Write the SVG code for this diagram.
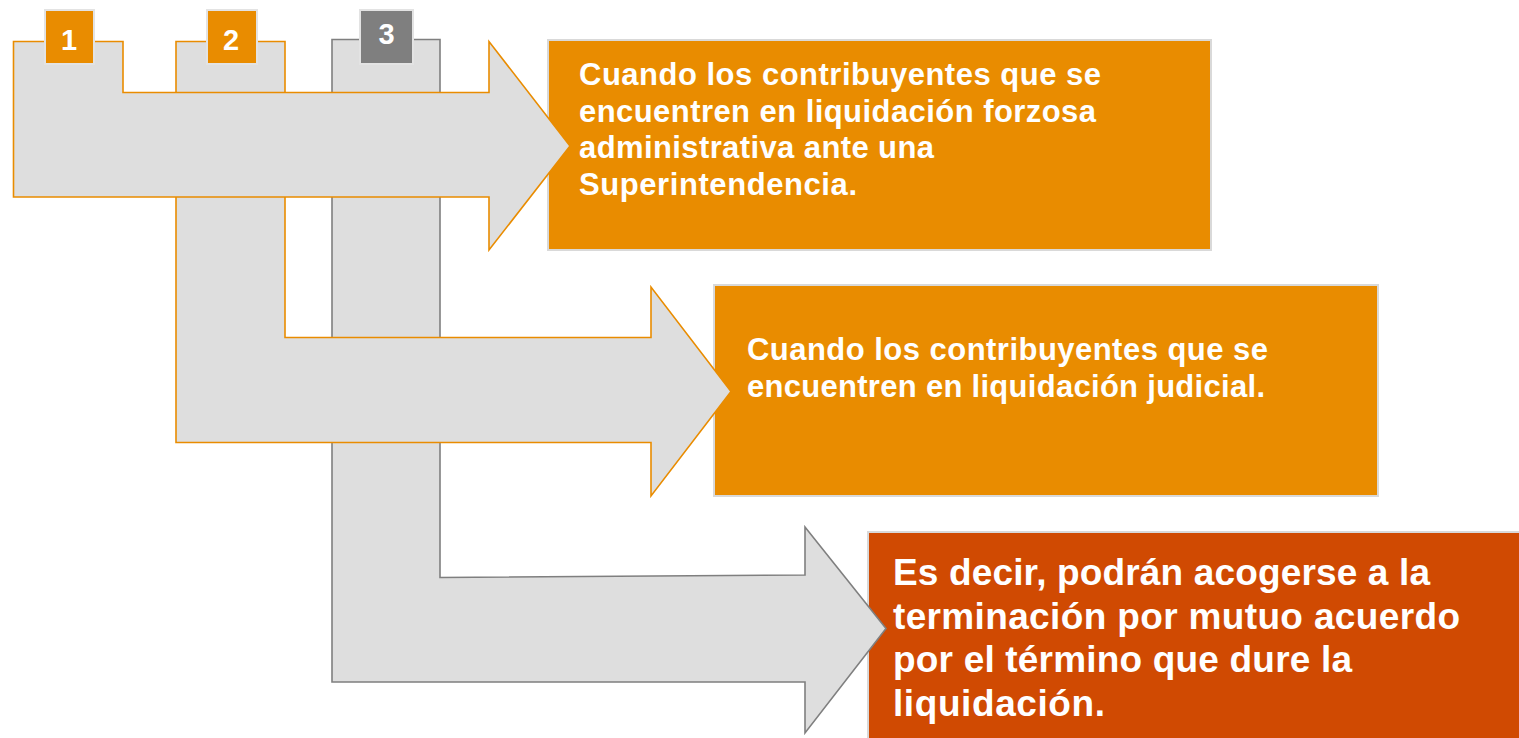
<svg xmlns="http://www.w3.org/2000/svg" width="1519" height="738" viewBox="0 0 1519 738">
<style>
.box{stroke:#D9D9D9;stroke-width:2}
.org{fill:#E98C00}
.red{fill:#D04A02}
.arr{fill:#DEDEDE;stroke-width:1.6;stroke-linejoin:miter}
.ao{stroke:#E98C00}
.ag{stroke:#7F7F7F}
.badge{stroke:#E3E3E3;stroke-width:2}
.gray{fill:#7F7F7F}
.t{font-family:"Liberation Sans",Arial,sans-serif;font-weight:bold;fill:#FFFFFF}
.t1{font-size:31px}
.t3{font-size:37px}
.num{font-family:"Liberation Sans",Arial,sans-serif;font-weight:bold;fill:#FFFFFF;font-size:29px;text-anchor:middle}
</style>
<rect width="1519" height="738" fill="#FFFFFF"/>
<g id="box1">
<rect class="box org" x="548" y="40" width="663" height="210"/>
<text class="t t1" x="579" y="85" textLength="522">Cuando los contribuyentes que se</text>
<text class="t t1" x="579" y="121.5" textLength="517">encuentren en liquidación forzosa</text>
<text class="t t1" x="579" y="158" textLength="355">administrativa ante una</text>
<text class="t t1" x="579" y="194.5" textLength="278">Superintendencia.</text>
</g>
<g id="box2">
<rect class="box org" x="714" y="285" width="664" height="211"/>
<text class="t t1" x="747" y="360" textLength="521">Cuando los contribuyentes que se</text>
<text class="t t1" x="747" y="396.5" textLength="518">encuentren en liquidación judicial.</text>
</g>
<g id="box3">
<rect class="box red" x="868" y="532" width="660" height="220"/>
<text class="t t3" x="893" y="585" textLength="537">Es decir, podrán acogerse a la</text>
<text class="t t3" x="893" y="628.5" textLength="567">terminación por mutuo acuerdo</text>
<text class="t t3" x="893" y="672" textLength="459">por el término que dure la</text>
<text class="t t3" x="893" y="716" textLength="212">liquidación.</text>
</g>
<g id="connectors">
<path id="arrow3" class="arr ag" d="M332,39.5 H440 V577.5 L805,575 V527 L886,628.5 L805,733 V682 H332 Z"/>
<path id="arrow2" class="arr ao" d="M176,41.5 H285 V337.5 H651 V287 L731,391.5 L651,496 V442.5 H176 Z"/>
<path id="arrow1" class="arr ao" d="M13.5,41.5 H123 V92.5 H489 V41.5 L570,146 L489,250 V197 H13.5 Z"/>
</g>
<g id="badge1">
<rect class="badge org" x="45" y="10" width="49" height="54"/>
<text class="num" x="69" y="49.5">1</text>
</g>
<g id="badge2">
<rect class="badge org" x="207" y="10" width="50" height="54"/>
<text class="num" x="231" y="49.5">2</text>
</g>
<g id="badge3">
<rect class="badge gray" x="360" y="10" width="53" height="54"/>
<text class="num" x="386.5" y="43.5">3</text>
</g>
</svg>
